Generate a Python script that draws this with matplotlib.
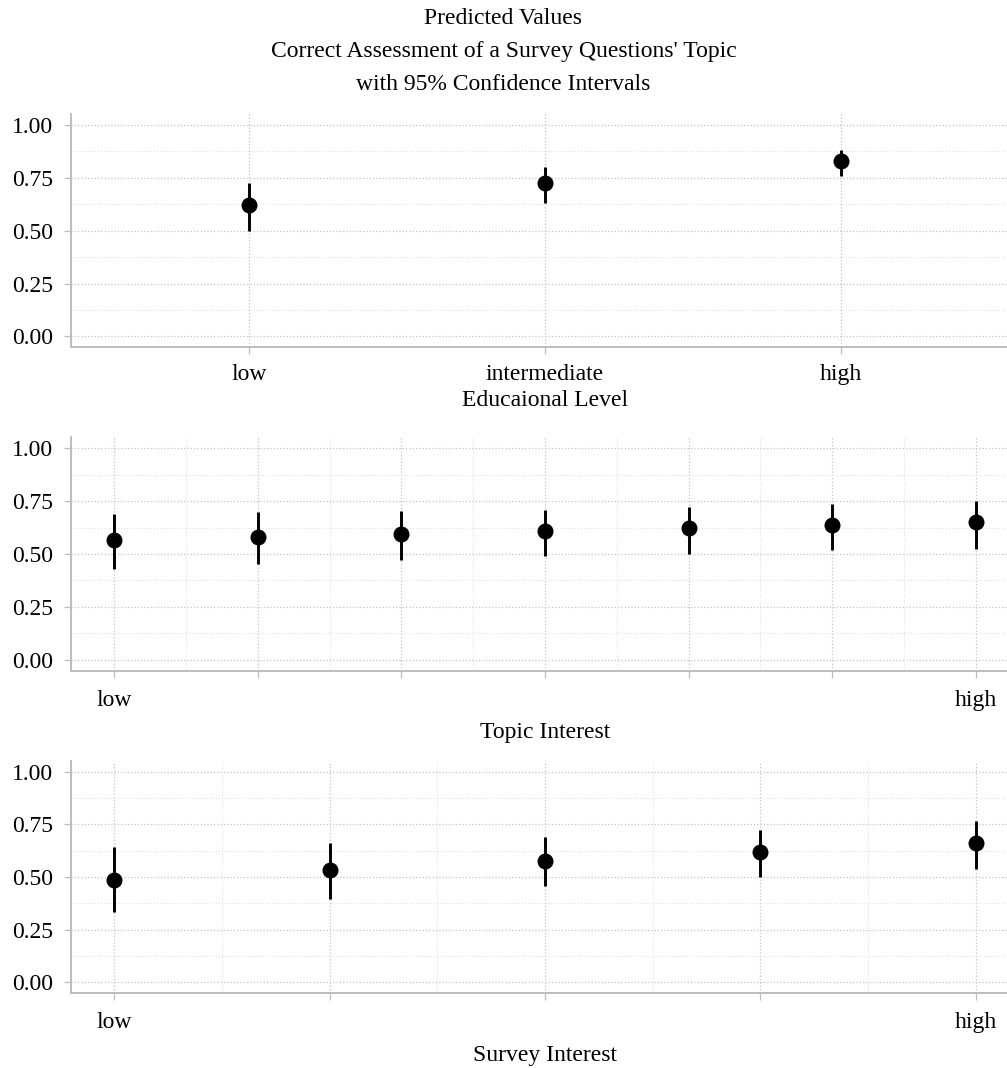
import matplotlib.pyplot as plt

plt.rcParams['font.family'] = ['Liberation Serif', 'DejaVu Serif']

# Panel 1: educational level (discrete)
edu_labels = ['low', 'intermediate', 'high']
edu_fit = [0.620, 0.724, 0.830]
edu_lo = [0.501, 0.630, 0.759]
edu_hi = [0.724, 0.803, 0.882]

# Panel 2: topic interest (0..6)
topic_x = [0, 1, 2, 3, 4, 5, 6]
topic_fit = [0.564, 0.580, 0.594, 0.608, 0.622, 0.635, 0.649]
topic_lo = [0.431, 0.451, 0.473, 0.489, 0.502, 0.517, 0.525]
topic_hi = [0.687, 0.696, 0.704, 0.710, 0.724, 0.738, 0.751]
topic_ticklabels = ['low', '', '', '', '', '', 'high']

# Panel 3: survey interest (0..4)
survey_x = [0, 1, 2, 3, 4]
survey_fit = [0.487, 0.531, 0.576, 0.620, 0.663]
survey_lo = [0.333, 0.397, 0.457, 0.500, 0.540]
survey_hi = [0.640, 0.660, 0.688, 0.723, 0.766]
survey_ticklabels = ['low', '', '', '', 'high']

FS = 17
W, H = 1007, 1068
fig = plt.figure(figsize=(W / 100, H / 100), dpi=100)


def make_ax(top, bottom, left=71, right=1019):
    return fig.add_axes([left / W, 1 - bottom / H, (right - left) / W, (bottom - top) / H])


def style(ax, xminor=None):
    ax.set_ylim(-0.05, 1.05)
    ax.set_yticks([0, 0.25, 0.5, 0.75, 1.0])
    ax.set_yticklabels(['0.00', '0.25', '0.50', '0.75', '1.00'])
    ax.set_yticks([0.125, 0.375, 0.625, 0.875], minor=True)
    if xminor is not None:
        ax.set_xticks(xminor, minor=True)
    ax.grid(True, which='major', linestyle=':', color='#c4c4c4', linewidth=0.9)
    ax.grid(True, which='minor', linestyle=':', color='#e2e2e2', linewidth=0.8)
    ax.set_axisbelow(True)
    for s in ['top', 'right']:
        ax.spines[s].set_visible(False)
    for s in ['left', 'bottom']:
        ax.spines[s].set_color('#bdbdbd')
        ax.spines[s].set_linewidth(1.4)
    ax.tick_params(which='major', colors='#bdbdbd', length=5, width=0.9,
                   labelcolor='black', labelsize=FS)
    ax.tick_params(axis='x', pad=9)
    ax.tick_params(axis='y', pad=8)
    ax.tick_params(which='minor', length=0)


def draw(ax, x, fit, lo, hi):
    ax.vlines(x, lo, hi, color='black', linewidth=2.1, zorder=3)
    ax.plot(x, fit, 'o', color='black', markersize=10.5, zorder=4)


# panel 1
ax1 = make_ax(114.5, 347)
edu_pos = list(range(len(edu_labels)))
draw(ax1, edu_pos, edu_fit, edu_lo, edu_hi)
ax1.set_xlim(-0.6, len(edu_labels) - 1 + 0.6)
ax1.set_xticks(edu_pos)
ax1.set_xticklabels(edu_labels)
style(ax1)
ax1.tick_params(axis='x', pad=7)
ax1.set_xlabel('Educaional Level', fontsize=FS, labelpad=4)

# panel 2
ax2 = make_ax(437.5, 670.5)
draw(ax2, topic_x, topic_fit, topic_lo, topic_hi)
ax2.set_xlim(-0.3, 6.3)
ax2.set_xticks(topic_x)
ax2.set_xticklabels(topic_ticklabels)
style(ax2, xminor=[v + 0.5 for v in topic_x[:-1]])
ax2.set_xlabel('Topic Interest', fontsize=FS, labelpad=8)

# panel 3
ax3 = make_ax(761, 993)
draw(ax3, survey_x, survey_fit, survey_lo, survey_hi)
ax3.set_xlim(-0.2, 4.2)
ax3.set_xticks(survey_x)
ax3.set_xticklabels(survey_ticklabels)
style(ax3, xminor=[v + 0.5 for v in survey_x[:-1]])
ax3.set_xlabel('Survey Interest', fontsize=FS, labelpad=8)

fig.text(0.5, 1 - 19 / H, 'Predicted Values', ha='center', va='center', fontsize=FS)
fig.text(0.5, 1 - 52 / H, "Correct Assessment of a Survey Questions' Topic",
         ha='center', va='center', fontsize=FS)
fig.text(0.5, 1 - 85 / H, 'with 95% Confidence Intervals', ha='center', va='center', fontsize=FS)

fig.savefig('out.png', dpi=100)
